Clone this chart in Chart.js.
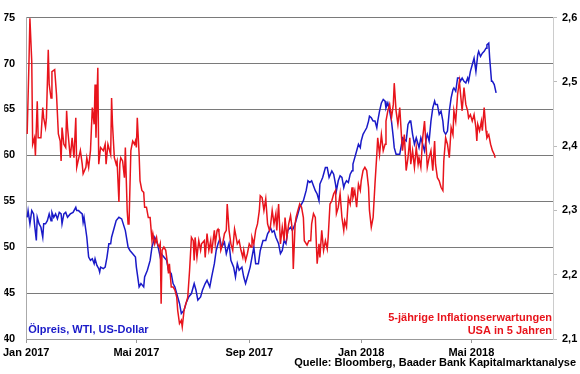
<!DOCTYPE html>
<html>
<head>
<meta charset="utf-8">
<script src="https://cdn.jsdelivr.net/npm/chart.js@4.4.1/dist/chart.umd.min.js"></script>
<style>
  html, body { margin: 0; padding: 0; background: #fff; }
</style>
</head>
<body>
<canvas id="chart" width="580" height="374"></canvas>
<script>
// days counted from 1 Jan 2017
const tickDays = [0, 120, 243, 365, 485];
const tickLabels = ['Jan 2017', 'Mai 2017', 'Sep 2017', 'Jan 2018', 'Mai 2018'];

// WTI oil price, USD (left axis)
const oilDays = [1,2,4,6,8,9,11,12,14,16,18,19,21,23,25,27,28,30,32,34,36,38,39,41,43,45,48,51,54,55,57,59,61,62,63,66,68,70,72,74,75,77,79,80,81,84,86,88,90,92,93,96,98,101,104,108,111,113,116,119,120,123,125,128,129,132,135,137,140,143,146,147,150,153,155,158,160,162,165,167,169,172,174,177,180,183,185,187,190,192,195,197,200,202,205,207,209,211,213,216,218,221,223,226,228,230,232,235,237,239,241,244,246,248,250,253,255,258,261,263,265,266,268,270,272,275,277,279,281,283,285,288,290,293,295,298,300,302,305,307,309,311,313,315,317,319,320,323,326,328,330,333,335,337,338,340,342,344,346,347,349,351,353,355,356,358,360,362,364,365,367,369,371,373,374,376,378,380,382,383,385,387,389,391,392,394,396,398,400,401,403,405,407,409,410,412,414,416,418,419,421,423,425,427,428,430,432,434,436,437,439,441,443,445,446,448,450,452,454,455,457,459,461,463,465,466,468,470,472,473,475,477,479,481,482,484,486,488,490,492,493,495,497,499,501,502,504,505,507,508,510,512];
const oilPrice = [53.25,53.98,52.54,53.98,53.62,52.54,50.73,53.25,52.54,52.17,51.08,52.54,52.54,52.89,53.62,52.89,53.79,53.25,53.62,53.08,53.79,53.62,52.54,53.62,53.79,53.25,53.62,53.79,54.34,53.98,53.98,53.79,53.62,52.71,53.25,51.08,48.92,48.56,48.74,48.20,48.74,48.02,47.66,47.29,47.83,47.66,47.83,48.92,50.37,50.37,51.08,52.17,52.89,53.25,53.08,51.81,50.00,49.64,49.29,48.92,47.83,45.67,46.04,45.67,46.75,47.48,48.56,50.00,51.08,50.37,48.92,49.29,48.92,48.56,47.48,47.12,46.04,45.67,44.58,43.87,42.78,43.14,43.87,44.58,44.95,46.04,45.31,44.23,44.58,45.31,46.04,46.39,45.67,46.75,48.20,49.64,50.37,50.91,50.00,50.54,49.29,50.37,48.56,47.83,46.75,48.20,47.48,47.83,46.75,46.04,46.75,47.83,48.92,50.00,48.20,48.20,49.64,50.73,50.73,51.45,51.81,52.17,51.63,51.81,51.08,50.37,49.29,49.64,50.73,50.37,51.81,52.17,51.81,52.54,53.25,54.34,54.70,55.06,56.15,57.23,57.04,57.23,56.69,56.15,55.79,55.06,56.87,57.59,58.67,58.67,57.59,58.31,57.95,56.87,56.15,57.23,57.77,57.59,56.50,56.87,57.23,57.04,57.95,58.31,59.04,59.75,60.48,61.21,60.84,61.56,62.29,62.65,63.00,63.73,64.27,64.09,63.73,63.73,63.00,63.73,64.81,65.71,66.08,65.90,65.17,65.71,64.81,63.73,61.92,60.84,60.12,60.12,60.12,61.21,61.92,61.75,61.56,63.37,63.73,63.73,62.29,61.21,61.92,61.21,60.84,61.92,61.21,60.48,61.92,62.29,61.56,63.73,65.17,65.90,65.54,65.54,64.46,64.81,63.73,62.65,62.29,62.65,64.81,66.26,67.17,67.34,66.98,68.42,68.42,68.06,68.42,68.06,67.88,68.42,68.06,69.15,69.87,70.59,69.15,70.96,71.32,70.77,71.13,71.32,71.67,72.04,72.22,70.59,68.06,68.06,67.71,66.80];

// 5y inflation expectations in 5 years, % (right axis)
const infDays = [1,3,4,6,7,9,10,12,13,16,18,19,21,22,24,25,27,28,31,33,35,37,38,39,41,43,44,45,48,50,52,54,55,59,61,62,65,66,68,70,72,74,75,76,78,79,81,84,86,87,89,92,93,94,96,98,99,101,102,103,105,107,108,110,111,112,114,116,118,119,120,121,123,124,126,128,129,131,133,135,137,138,140,142,143,145,146,147,148,150,152,154,155,156,158,160,162,164,165,167,169,170,172,174,176,178,180,182,183,184,186,188,190,191,194,195,197,199,201,202,204,205,206,208,209,210,212,214,216,218,219,221,223,225,227,228,230,232,234,236,237,239,241,243,245,246,248,250,252,254,255,257,259,261,263,265,266,268,270,272,273,275,277,279,281,282,284,286,288,290,291,293,294,296,298,300,302,303,306,308,310,311,313,315,317,319,320,322,324,326,328,329,331,333,335,337,338,340,342,344,346,347,349,351,353,355,356,358,360,362,364,365,367,369,371,373,374,376,378,380,382,383,385,387,389,391,392,394,396,398,400,401,403,405,407,409,410,412,414,416,418,419,421,423,425,427,428,430,432,434,436,437,439,441,443,445,446,448,450,452,454,455,457,459,461,463,465,466,468,470,472,473,475,477,479,481,482,484,486,488,490,491,492,494,496,497,499,501,502,504,506,508,510,511];
const infRate = [2.419,2.532,2.599,2.532,2.403,2.413,2.385,2.470,2.413,2.413,2.460,2.444,2.429,2.444,2.550,2.496,2.475,2.516,2.519,2.480,2.419,2.408,2.377,2.429,2.403,2.398,2.455,2.429,2.382,2.413,2.382,2.444,2.367,2.393,2.372,2.357,2.367,2.382,2.367,2.393,2.460,2.434,2.496,2.413,2.522,2.372,2.398,2.393,2.403,2.372,2.403,2.387,2.475,2.434,2.382,2.372,2.377,2.313,2.372,2.382,2.377,2.351,2.398,2.300,2.279,2.279,2.393,2.408,2.403,2.408,2.398,2.444,2.387,2.346,2.331,2.328,2.305,2.305,2.289,2.289,2.253,2.264,2.248,2.258,2.248,2.243,2.248,2.155,2.238,2.243,2.238,2.217,2.202,2.217,2.181,2.181,2.176,2.165,2.145,2.124,2.129,2.119,2.145,2.155,2.165,2.207,2.258,2.253,2.222,2.258,2.227,2.253,2.238,2.248,2.253,2.227,2.264,2.238,2.253,2.233,2.258,2.269,2.248,2.269,2.271,2.266,2.238,2.248,2.264,2.269,2.310,2.269,2.248,2.238,2.271,2.264,2.248,2.253,2.238,2.227,2.238,2.222,2.233,2.248,2.243,2.258,2.248,2.269,2.279,2.300,2.323,2.320,2.300,2.318,2.279,2.269,2.274,2.300,2.279,2.295,2.269,2.310,2.248,2.274,2.253,2.289,2.258,2.279,2.292,2.269,2.209,2.279,2.289,2.300,2.310,2.305,2.289,2.253,2.246,2.253,2.253,2.279,2.295,2.289,2.217,2.248,2.227,2.269,2.238,2.253,2.240,2.258,2.310,2.315,2.326,2.331,2.295,2.305,2.326,2.289,2.269,2.284,2.274,2.320,2.310,2.336,2.320,2.331,2.305,2.341,2.331,2.346,2.362,2.367,2.362,2.336,2.300,2.274,2.289,2.341,2.387,2.413,2.387,2.418,2.393,2.403,2.439,2.455,2.465,2.444,2.465,2.498,2.455,2.434,2.460,2.413,2.393,2.418,2.362,2.382,2.413,2.372,2.393,2.367,2.398,2.372,2.382,2.367,2.413,2.439,2.393,2.367,2.382,2.393,2.362,2.408,2.372,2.351,2.346,2.336,2.331,2.377,2.413,2.403,2.382,2.429,2.418,2.455,2.439,2.480,2.501,2.485,2.455,2.491,2.465,2.455,2.444,2.449,2.439,2.449,2.429,2.408,2.434,2.424,2.439,2.424,2.460,2.424,2.413,2.418,2.403,2.393,2.387,2.382];

const blue = '#1a1ac8';
const red = '#e8141c';
const fontFamily = '"Liberation Sans", Arial, sans-serif';

Chart.defaults.font.family = fontFamily;
Chart.defaults.font.size = 11;
Chart.defaults.font.weight = 'bold';
Chart.defaults.color = '#000';

// free text on the chart
const notes = {
  id: 'notes',
  afterDatasetsDraw(chart) {
    const { ctx, chartArea: a } = chart;
    ctx.save();
    ctx.font = 'bold 11px ' + fontFamily;
    ctx.textBaseline = 'middle';
    ctx.textAlign = 'left';
    ctx.fillStyle = blue;
    ctx.fillText('Ölpreis, WTI, US-Dollar', a.left + 2, a.bottom - 9);
    ctx.textAlign = 'right';
    ctx.fillStyle = red;
    ctx.fillText('5-jährige Inflationserwartungen', a.right - 1, a.bottom - 21);
    ctx.fillText('USA in 5 Jahren', a.right - 1, a.bottom - 8);
    ctx.fillStyle = '#000';
    ctx.fillText('Quelle: Bloomberg, Baader Bank Kapitalmarktanalyse', chart.width - 4, chart.height - 11);
    ctx.restore();
  }
};

const ctx = document.getElementById('chart').getContext('2d');
new Chart(ctx, {
  type: 'line',
  data: {
    datasets: [{
      label: 'Inflationserwartungen',
      data: infDays.map((d, i) => ({ x: d, y: infRate[i] })),
      yAxisID: 'y2',
      borderColor: red,
      borderWidth: 1.5,
      pointRadius: 0,
      tension: 0
    }, {
      label: 'Ölpreis',
      data: oilDays.map((d, i) => ({ x: d, y: oilPrice[i] })),
      yAxisID: 'y',
      borderColor: blue,
      borderWidth: 1.5,
      pointRadius: 0,
      tension: 0
    }]
  },
  options: {
    responsive: false,
    animation: false,
    layout: { padding: { top: 16 } },
    plugins: {
      legend: { display: false },
      tooltip: { enabled: false }
    },
    scales: {
      x: {
        type: 'linear',
        min: 0,
        max: 574,
        afterBuildTicks: (scale) => { scale.ticks = tickDays.map(v => ({ value: v })); },
        afterFit: (scale) => { scale.height = 35; },
        ticks: {
          autoSkip: false,
          maxRotation: 0,
          padding: 3,
          callback: (v) => tickLabels[tickDays.indexOf(v)]
        },
        grid: { drawOnChartArea: false, tickLength: 4, color: '#999' },
        border: { color: '#999' }
      },
      y: {
        position: 'left',
        min: 40,
        max: 75,
        afterFit: (scale) => { scale.width = 22; },
        ticks: { stepSize: 5, padding: 11 },
        grid: { color: '#7a7a7a', drawTicks: false },
        border: { color: '#aaa' }
      },
      y2: {
        position: 'right',
        min: 2.1,
        max: 2.6,
        afterFit: (scale) => { scale.width = 27; },
        ticks: {
          stepSize: 0.1,
          padding: 5,
          callback: (v) => Number(v).toFixed(1).replace('.', ',')
        },
        grid: { drawOnChartArea: false, tickLength: 4, color: '#bbb' },
        border: { color: '#ccc' }
      }
    }
  },
  plugins: [notes]
});
</script>
</body>
</html>
